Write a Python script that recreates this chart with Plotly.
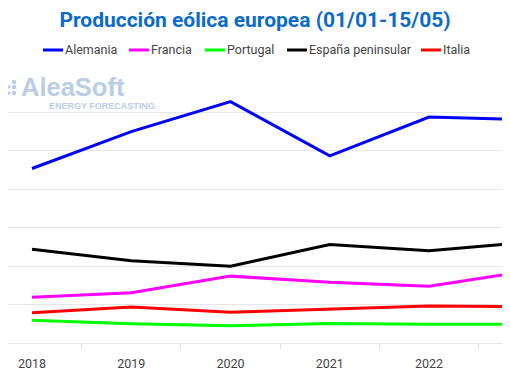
import plotly.graph_objects as go

years = ["2018", "2019", "2020", "2021", "2022", "2023"]
alemania = [45.4, 55.0, 62.8, 48.7, 58.8, 58.1]
francia = [11.9, 13.1, 17.4, 15.8, 14.8, 18.7]
portugal = [5.9, 5.0, 4.5, 5.1, 4.9, 4.9]
espana = [24.4, 21.4, 20.0, 25.6, 24.0, 26.2]
italia = [7.9, 9.4, 8.0, 8.8, 9.6, 9.5]

series = [
    ("Alemania", alemania, "#0000ff"),
    ("Francia", francia, "#ff00ff"),
    ("Portugal", portugal, "#00ff00"),
    ("España peninsular", espana, "#000000"),
    ("Italia", italia, "#ff0000"),
]

# page body has an 8px margin; work in figure coordinates
O = 8
W, H = 510, 382
top, bottom = 74 - O, 343 - O
ph = bottom - top
step = 99.25
x0 = 32 - O


def px(x):
    return (x - O) / W


def py(y):
    return (bottom - (y - O)) / ph


fig = go.Figure()
for name, vals, col in series:
    fig.add_trace(go.Scatter(x=years, y=vals, name=name, mode="lines",
                             line=dict(color=col, width=3), showlegend=False))

fig.update_layout(
    width=W, height=H,
    margin=dict(l=0, r=0, t=top, b=H - bottom),
    plot_bgcolor="white", paper_bgcolor="white",
    font=dict(family="Roboto, sans-serif", color="#444444", size=12),
    title=dict(text="<b>Producción eólica europea (01/01-15/05)</b>",
               x=(255 - O) / W, xanchor="center", y=1 - (20 - O) / H, yanchor="middle",
               font=dict(size=21, color="#0b6bcb", family="Roboto, sans-serif")),
    showlegend=False,
)
fig.update_xaxes(type="category", range=[-x0 / step, (W - x0) / step],
                 tickson="boundaries", ticks="outside", ticklen=5,
                 tickcolor="#e0e0e0", showline=True, linecolor="#e6e6e6",
                 showgrid=False, ticklabelstandoff=9,
                 tickfont=dict(size=12.5, color="#444444"))
fig.update_yaxes(range=[0, 70], dtick=10, showgrid=True, gridcolor="#e6e6e6",
                 showticklabels=False, zeroline=False)

# legend (drawn manually to match short line samples)
leg_x = [43, 129, 205, 287, 421]
leg_y = 50
for (name, vals, col), lx in zip(series, leg_x):
    fig.add_shape(type="line", xref="paper", yref="paper",
                  x0=px(lx), x1=px(lx + 20), y0=py(leg_y), y1=py(leg_y),
                  line=dict(color=col, width=3))
    fig.add_annotation(text=name, xref="paper", yref="paper",
                       x=px(lx + 21), y=py(leg_y), xanchor="left", yanchor="middle",
                       showarrow=False, borderpad=0,
                       font=dict(size=12.5, color="#444444"))

# watermark
wm = "#bccde6"
fig.add_annotation(text="<b>AleaSoft</b>", xref="paper", yref="paper",
                   x=px(20), y=py(87), xanchor="left",
                   yanchor="middle", showarrow=False, borderpad=0,
                   font=dict(size=25.5, color=wm, family="Liberation Sans, Arial"))
fig.add_annotation(text="<b>ENERGY FORECASTING</b>", xref="paper", yref="paper",
                   x=px(48), y=py(105.5), xanchor="left",
                   yanchor="middle", showarrow=False, borderpad=0,
                   font=dict(size=9, color=wm, family="Liberation Sans, Arial"))
dots = [(14, 82, 2.2), (14, 87, 2.2), (14, 93, 2.2), (9, 87, 1.8), (9, 93, 1.8), (4, 93, 1.4)]
for dx, dy, r in dots:
    fig.add_shape(type="circle", xref="paper", yref="paper",
                  x0=px(dx - r), x1=px(dx + r),
                  y0=py(dy + r), y1=py(dy - r),
                  fillcolor=wm, line=dict(width=0))

fig.write_html("out.html", config={"displayModeBar": False})
